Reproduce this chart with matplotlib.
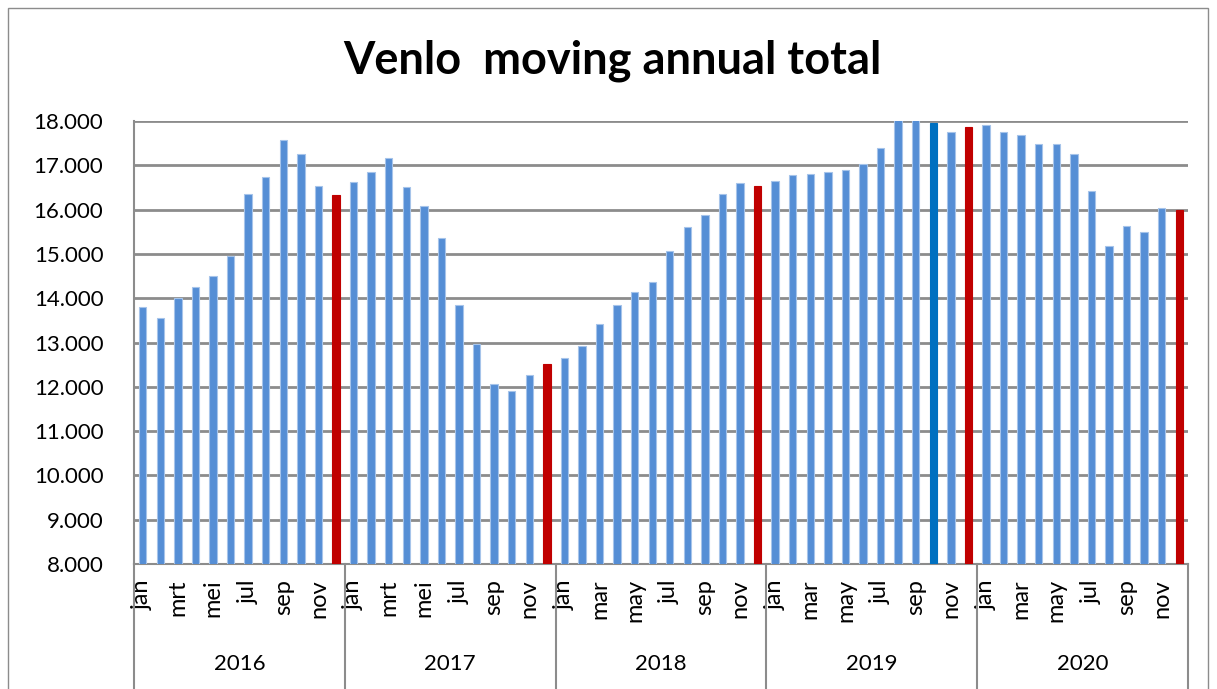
import matplotlib.pyplot as plt
from matplotlib.patches import Rectangle
import matplotlib.transforms as mtransforms

plt.rcParams['font.family'] = ['Lato', 'DejaVu Sans']

years = ["2016", "2017", "2018", "2019", "2020"]
months_nl = ["jan", "feb", "mrt", "apr", "mei", "jun", "jul", "aug", "sep", "okt", "nov", "dec"]
months_en = ["jan", "feb", "mar", "apr", "may", "jun", "jul", "aug", "sep", "oct", "nov", "dec"]

# moving annual total per month
values_2016 = [13800, 13550, 14010, 14260, 14490, 14960, 16350, 16740, 17560, 17260, 16530, 16330]
values_2017 = [16630, 16860, 17160, 16510, 16090, 15360, 13850, 12960, 12070, 11900, 12270, 12520]
values_2018 = [12660, 12920, 13410, 13850, 14150, 14370, 15060, 15610, 15880, 16350, 16590, 16530]
values_2019 = [16650, 16770, 16810, 16860, 16900, 17030, 17390, 18100, 18120, 17960, 17750, 17870]
values_2020 = [17900, 17760, 17680, 17470, 17480, 17250, 16430, 15180, 15620, 15490, 16040, 16000]

all_values = values_2016 + values_2017 + values_2018 + values_2019 + values_2020
highlight = (3, 9)  # 2019 okt

BLUE = "#558ED5"
RED = "#C00000"
DARK = "#0070C0"

colors = []
edges = []
for i in range(len(all_values)):
    y, m = divmod(i, 12)
    if m == 11:
        colors.append(RED)
        edges.append(RED)
    elif (y, m) == highlight:
        colors.append(DARK)
        edges.append(DARK)
    else:
        colors.append(BLUE)
        edges.append("#A6C4EA")

fig = plt.figure(figsize=(12.17, 6.89), dpi=100)
ax = fig.add_axes([134 / 1217, 125 / 689, 1054 / 1217, 443 / 689])

x = list(range(len(all_values)))
ax.bar(x, all_values, width=0.42, color=colors, edgecolor=edges, linewidth=0.8, zorder=3)

ax.set_ylim(8000, 18000)
ax.set_xlim(-0.5, len(all_values) - 0.5)
ax.set_yticks(range(8000, 18001, 1000))
ax.set_yticklabels([f"{v // 1000}.000" for v in range(8000, 18001, 1000)], fontsize=16)
ax.yaxis.grid(True, color="#8C8C8C", linewidth=2, zorder=0)
ax.tick_params(axis="y", length=0, pad=22)

# month labels, every other month
tick_pos = []
tick_lab = []
for yi, yr in enumerate(years):
    names = months_nl if yi < 2 else months_en
    for m in range(0, 12, 2):
        tick_pos.append(yi * 12 + m)
        tick_lab.append(names[m])
ax.set_xticks(tick_pos)
ax.set_xticklabels(tick_lab, rotation=90, fontsize=17, va="top")
ax.tick_params(axis="x", length=0, pad=11)

for side in ["top", "right"]:
    ax.spines[side].set_visible(False)
for side in ["left", "bottom"]:
    ax.spines[side].set_color("#8C8C8C")
    ax.spines[side].set_linewidth(1.5)

# year separators and labels
trans = mtransforms.blended_transform_factory(ax.transData, ax.transAxes)
for yi in range(len(years) + 1):
    bx = yi * 12 - 0.5
    ax.plot([bx, bx], [0, -0.28], transform=trans, color="#8C8C8C", lw=1.5, clip_on=False)
for yi, yr in enumerate(years):
    ax.text(yi * 12 + 5.5, -0.225, yr, transform=trans, ha="center", va="center", fontsize=16)

fig.text(0.503, 0.912, "Venlo  moving annual total", ha="center", va="center",
         fontsize=32.5, fontweight="bold")

fig.patches.append(Rectangle((8 / 1217, -0.05), 1200 / 1217, 1.05 - 8 / 689,
                             transform=fig.transFigure, fill=False,
                             edgecolor="#8C8C8C", linewidth=1))

fig.savefig("out.png", dpi=100)
